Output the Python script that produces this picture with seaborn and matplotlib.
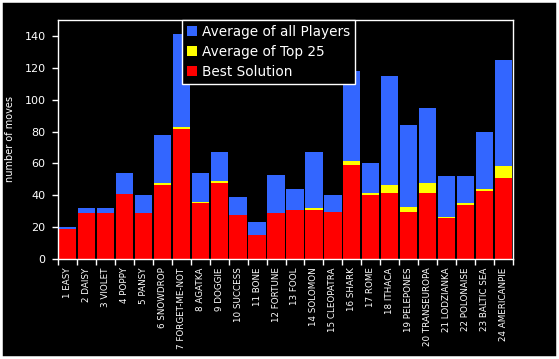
import matplotlib
matplotlib.use("Agg")
import matplotlib.pyplot as plt
import seaborn as sns
from matplotlib.patches import Rectangle

# Dane zagadek
levels = ["1 EASY", "2 DAISY", "3 VIOLET", "4 POPPY", "5 PANSY", "6 SNOWDROP",
          "7 FORGET-ME-NOT", "8 AGATKA", "9 DOGGIE", "10 SUCCESS", "11 BONE",
          "12 FORTUNE", "13 FOOL", "14 SOLOMON", "15 CLEOPATRA", "16 SHARK",
          "17 ROME", "18 ITHACA", "19 PELEPONES", "20 TRANSEUROPA",
          "21 LODZIANKA", "22 POLONAISE", "23 BALTIC SEA", "24 AMERICANPIE"]
avg_all = [20, 32, 32, 54, 40, 78, 141, 54, 67, 39, 23, 53,
           44, 67, 40, 118, 60, 115, 84, 95, 52, 52, 80, 125]
avg_top25 = [19, 29, 29, 41, 29, 47.5, 83, 35.5, 48.7, 27.4, 15.3, 29,
             31, 32.2, 29.7, 61.7, 41.2, 46.7, 32.8, 47.5, 26.6, 34.9, 44.1, 58.2]
best = [19, 29, 28.7, 41, 29, 46.7, 81.8, 34.9, 47.9, 27.4, 15.3, 29,
        31, 31, 29.7, 59.2, 40.4, 41.6, 29.7, 41.6, 25.9, 34.1, 42.9, 51]

sns.set_style("dark")
plt.rcParams['font.family'] = ['DejaVu Sans']

fig = plt.figure(figsize=(5.59, 3.59), dpi=100)
fig.patch.set_facecolor("black")
ax = fig.add_axes([58 / 559, 1 - 259 / 359, 455 / 559, 239 / 359])
ax.set_facecolor("black")

# Nakładające się słupki (nie skumulowane)
sns.barplot(x=levels, y=avg_all, color="#3366ff", saturation=1, width=0.91,
            linewidth=0, label="Average of all Players", ax=ax)
sns.barplot(x=levels, y=avg_top25, color="#ffff00", saturation=1, width=0.91,
            linewidth=0, label="Average of Top 25", ax=ax)
sns.barplot(x=levels, y=best, color="#ff0000", saturation=1, width=0.91,
            linewidth=0, label="Best Solution", ax=ax)

ax.set_xlim(-0.5, len(levels) - 0.5)
ax.set_ylim(0, 150)
ax.set_yticks(range(0, 141, 20))
ax.set_ylabel("number of moves", color="white", fontsize=7, labelpad=7)
ax.set_xlabel("")
ax.grid(False)

for s in ax.spines.values():
    s.set_visible(True)
    s.set_color("white")
    s.set_linewidth(1)

ax.tick_params(axis="y", colors="white", labelsize=8, direction="out",
               length=4, width=1, left=True, pad=5)
ax.tick_params(axis="x", which="major", colors="white", labelsize=6.3,
               length=0, pad=6, labelrotation=90)
ax.set_xticks([i - 0.5 for i in range(len(levels) + 1)], minor=True)
ax.tick_params(axis="x", which="minor", colors="white", direction="out",
               length=4, width=1, bottom=True)

leg = ax.legend(loc="upper left", bbox_to_anchor=(0.272, 1.0), borderaxespad=0,
                frameon=True, fancybox=False, facecolor="black", edgecolor="white",
                fontsize=9.8, handlelength=0.75, handleheight=0.75, handletextpad=0.4,
                labelspacing=0.45, borderpad=0.35)
leg.get_frame().set_linewidth(1)
leg.get_frame().set_alpha(1)
for t in leg.get_texts():
    t.set_color("white")

# Biała ramka wokół obrazka
fig.patches.append(Rectangle((0, 0), 1, 1, transform=fig.transFigure, fill=False,
                             edgecolor="white", linewidth=4, zorder=10))

fig.savefig("out.png", dpi=100, facecolor=fig.get_facecolor())
